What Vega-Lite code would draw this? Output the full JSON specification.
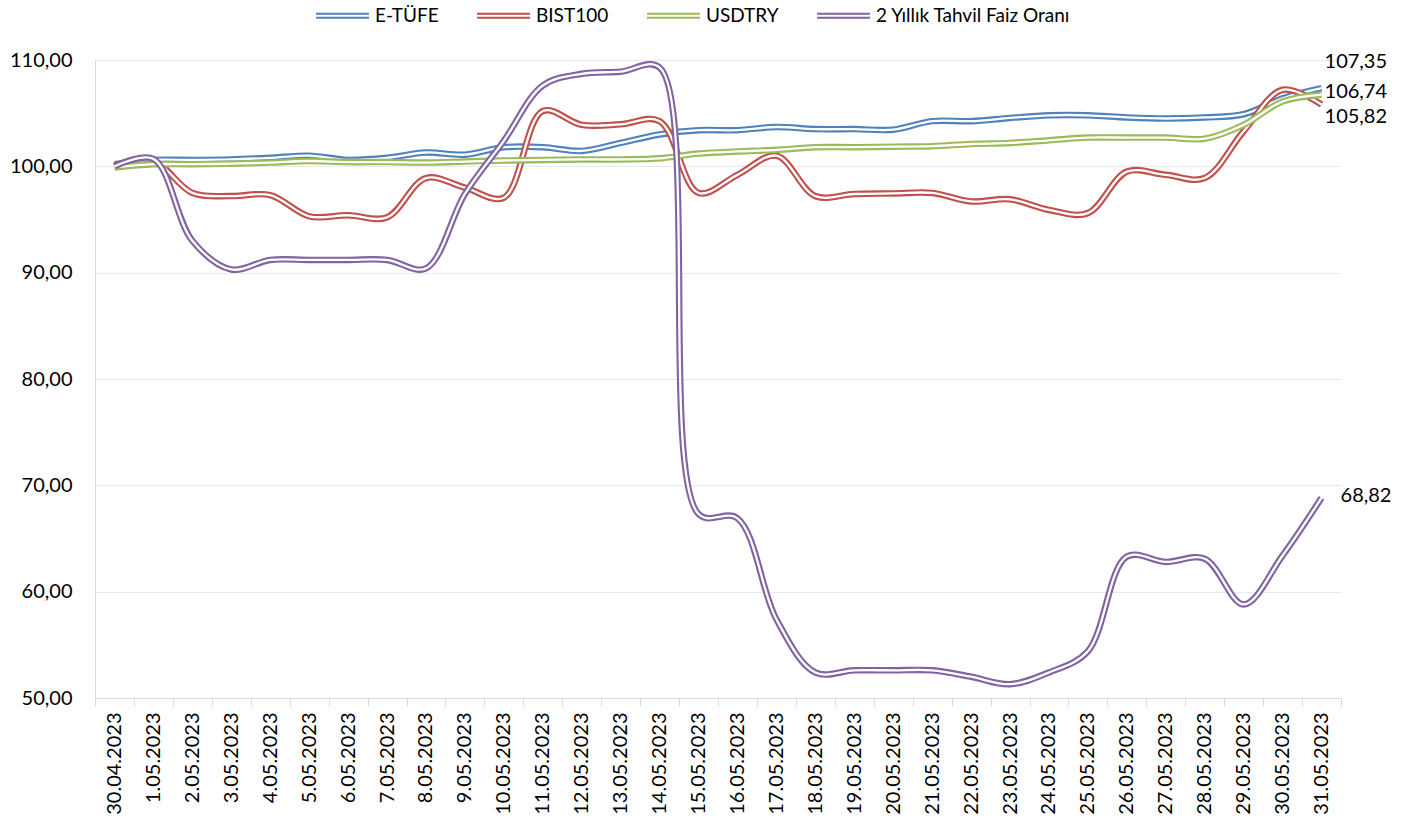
{
  "$schema": "https://vega.github.io/schema/vega-lite/v6.json",
  "autosize": {"type": "none"},
  "padding": {"left": 95, "top": 60, "right": 82, "bottom": 127},
  "width": 1246,
  "height": 638,
  "background": "white",
  "config": {
    "view": {"stroke": null},
    "locale": {"number": {"decimal": ",", "thousands": ".", "grouping": [3], "currency": ["", " TL"]}},
    "font": "Lato"
  },
  "data": {"values": [
    {"d":"30.04.2023","s":"E-TÜFE","v":100.2},{"d":"1.05.2023","s":"E-TÜFE","v":100.6},{"d":"2.05.2023","s":"E-TÜFE","v":100.6},{"d":"3.05.2023","s":"E-TÜFE","v":100.65},{"d":"4.05.2023","s":"E-TÜFE","v":100.8},{"d":"5.05.2023","s":"E-TÜFE","v":101.0},{"d":"6.05.2023","s":"E-TÜFE","v":100.6},{"d":"7.05.2023","s":"E-TÜFE","v":100.8},{"d":"8.05.2023","s":"E-TÜFE","v":101.3},{"d":"9.05.2023","s":"E-TÜFE","v":101.1},{"d":"10.05.2023","s":"E-TÜFE","v":101.8},{"d":"11.05.2023","s":"E-TÜFE","v":101.8},{"d":"12.05.2023","s":"E-TÜFE","v":101.45},{"d":"13.05.2023","s":"E-TÜFE","v":102.2},{"d":"14.05.2023","s":"E-TÜFE","v":103.0},{"d":"15.05.2023","s":"E-TÜFE","v":103.4},{"d":"16.05.2023","s":"E-TÜFE","v":103.4},{"d":"17.05.2023","s":"E-TÜFE","v":103.7},{"d":"18.05.2023","s":"E-TÜFE","v":103.5},{"d":"19.05.2023","s":"E-TÜFE","v":103.5},{"d":"20.05.2023","s":"E-TÜFE","v":103.45},{"d":"21.05.2023","s":"E-TÜFE","v":104.25},{"d":"22.05.2023","s":"E-TÜFE","v":104.25},{"d":"23.05.2023","s":"E-TÜFE","v":104.55},{"d":"24.05.2023","s":"E-TÜFE","v":104.8},{"d":"25.05.2023","s":"E-TÜFE","v":104.8},{"d":"26.05.2023","s":"E-TÜFE","v":104.6},{"d":"27.05.2023","s":"E-TÜFE","v":104.5},{"d":"28.05.2023","s":"E-TÜFE","v":104.6},{"d":"29.05.2023","s":"E-TÜFE","v":104.9},{"d":"30.05.2023","s":"E-TÜFE","v":106.4},{"d":"31.05.2023","s":"E-TÜFE","v":107.35},
    {"d":"30.04.2023","s":"BIST100","v":100.1},{"d":"1.05.2023","s":"BIST100","v":100.5},{"d":"2.05.2023","s":"BIST100","v":97.5},{"d":"3.05.2023","s":"BIST100","v":97.2},{"d":"4.05.2023","s":"BIST100","v":97.3},{"d":"5.05.2023","s":"BIST100","v":95.3},{"d":"6.05.2023","s":"BIST100","v":95.4},{"d":"7.05.2023","s":"BIST100","v":95.2},{"d":"8.05.2023","s":"BIST100","v":98.9},{"d":"9.05.2023","s":"BIST100","v":98.0},{"d":"10.05.2023","s":"BIST100","v":97.05},{"d":"11.05.2023","s":"BIST100","v":105.2},{"d":"12.05.2023","s":"BIST100","v":103.9},{"d":"13.05.2023","s":"BIST100","v":103.95},{"d":"14.05.2023","s":"BIST100","v":104.25},{"d":"15.05.2023","s":"BIST100","v":97.5},{"d":"16.05.2023","s":"BIST100","v":99.2},{"d":"17.05.2023","s":"BIST100","v":101.0},{"d":"18.05.2023","s":"BIST100","v":97.2},{"d":"19.05.2023","s":"BIST100","v":97.4},{"d":"20.05.2023","s":"BIST100","v":97.45},{"d":"21.05.2023","s":"BIST100","v":97.5},{"d":"22.05.2023","s":"BIST100","v":96.7},{"d":"23.05.2023","s":"BIST100","v":96.9},{"d":"24.05.2023","s":"BIST100","v":95.9},{"d":"25.05.2023","s":"BIST100","v":95.6},{"d":"26.05.2023","s":"BIST100","v":99.5},{"d":"27.05.2023","s":"BIST100","v":99.2},{"d":"28.05.2023","s":"BIST100","v":98.9},{"d":"29.05.2023","s":"BIST100","v":103.3},{"d":"30.05.2023","s":"BIST100","v":107.2},{"d":"31.05.2023","s":"BIST100","v":105.82},
    {"d":"30.04.2023","s":"USDTRY","v":99.9},{"d":"1.05.2023","s":"USDTRY","v":100.2},{"d":"2.05.2023","s":"USDTRY","v":100.2},{"d":"3.05.2023","s":"USDTRY","v":100.25},{"d":"4.05.2023","s":"USDTRY","v":100.35},{"d":"5.05.2023","s":"USDTRY","v":100.5},{"d":"6.05.2023","s":"USDTRY","v":100.4},{"d":"7.05.2023","s":"USDTRY","v":100.4},{"d":"8.05.2023","s":"USDTRY","v":100.35},{"d":"9.05.2023","s":"USDTRY","v":100.45},{"d":"10.05.2023","s":"USDTRY","v":100.55},{"d":"11.05.2023","s":"USDTRY","v":100.6},{"d":"12.05.2023","s":"USDTRY","v":100.65},{"d":"13.05.2023","s":"USDTRY","v":100.65},{"d":"14.05.2023","s":"USDTRY","v":100.75},{"d":"15.05.2023","s":"USDTRY","v":101.2},{"d":"16.05.2023","s":"USDTRY","v":101.4},{"d":"17.05.2023","s":"USDTRY","v":101.55},{"d":"18.05.2023","s":"USDTRY","v":101.8},{"d":"19.05.2023","s":"USDTRY","v":101.8},{"d":"20.05.2023","s":"USDTRY","v":101.85},{"d":"21.05.2023","s":"USDTRY","v":101.9},{"d":"22.05.2023","s":"USDTRY","v":102.1},{"d":"23.05.2023","s":"USDTRY","v":102.2},{"d":"24.05.2023","s":"USDTRY","v":102.45},{"d":"25.05.2023","s":"USDTRY","v":102.7},{"d":"26.05.2023","s":"USDTRY","v":102.7},{"d":"27.05.2023","s":"USDTRY","v":102.7},{"d":"28.05.2023","s":"USDTRY","v":102.6},{"d":"29.05.2023","s":"USDTRY","v":103.9},{"d":"30.05.2023","s":"USDTRY","v":106.1},{"d":"31.05.2023","s":"USDTRY","v":106.74},
    {"d":"30.04.2023","s":"2 Yıllık Tahvil Faiz Oranı","v":100.0},{"d":"1.05.2023","s":"2 Yıllık Tahvil Faiz Oranı","v":100.7},{"d":"2.05.2023","s":"2 Yıllık Tahvil Faiz Oranı","v":93.0},{"d":"3.05.2023","s":"2 Yıllık Tahvil Faiz Oranı","v":90.3},{"d":"4.05.2023","s":"2 Yıllık Tahvil Faiz Oranı","v":91.2},{"d":"5.05.2023","s":"2 Yıllık Tahvil Faiz Oranı","v":91.2},{"d":"6.05.2023","s":"2 Yıllık Tahvil Faiz Oranı","v":91.2},{"d":"7.05.2023","s":"2 Yıllık Tahvil Faiz Oranı","v":91.2},{"d":"8.05.2023","s":"2 Yıllık Tahvil Faiz Oranı","v":90.4},{"d":"9.05.2023","s":"2 Yıllık Tahvil Faiz Oranı","v":97.4},{"d":"10.05.2023","s":"2 Yıllık Tahvil Faiz Oranı","v":102.4},{"d":"11.05.2023","s":"2 Yıllık Tahvil Faiz Oranı","v":107.6},{"d":"12.05.2023","s":"2 Yıllık Tahvil Faiz Oranı","v":108.7},{"d":"13.05.2023","s":"2 Yıllık Tahvil Faiz Oranı","v":108.9},{"d":"14.05.2023","s":"2 Yıllık Tahvil Faiz Oranı","v":109.3},{"d":"15.05.2023","s":"2 Yıllık Tahvil Faiz Oranı","v":67.3},{"d":"16.05.2023","s":"2 Yıllık Tahvil Faiz Oranı","v":66.9},{"d":"17.05.2023","s":"2 Yıllık Tahvil Faiz Oranı","v":57.4},{"d":"18.05.2023","s":"2 Yıllık Tahvil Faiz Oranı","v":52.4},{"d":"19.05.2023","s":"2 Yıllık Tahvil Faiz Oranı","v":52.6},{"d":"20.05.2023","s":"2 Yıllık Tahvil Faiz Oranı","v":52.6},{"d":"21.05.2023","s":"2 Yıllık Tahvil Faiz Oranı","v":52.6},{"d":"22.05.2023","s":"2 Yıllık Tahvil Faiz Oranı","v":52.0},{"d":"23.05.2023","s":"2 Yıllık Tahvil Faiz Oranı","v":51.3},{"d":"24.05.2023","s":"2 Yıllık Tahvil Faiz Oranı","v":52.4},{"d":"25.05.2023","s":"2 Yıllık Tahvil Faiz Oranı","v":54.4},{"d":"26.05.2023","s":"2 Yıllık Tahvil Faiz Oranı","v":63.3},{"d":"27.05.2023","s":"2 Yıllık Tahvil Faiz Oranı","v":62.8},{"d":"28.05.2023","s":"2 Yıllık Tahvil Faiz Oranı","v":63.1},{"d":"29.05.2023","s":"2 Yıllık Tahvil Faiz Oranı","v":58.8},{"d":"30.05.2023","s":"2 Yıllık Tahvil Faiz Oranı","v":63.4},{"d":"31.05.2023","s":"2 Yıllık Tahvil Faiz Oranı","v":68.82}
  ]},
  "encoding": {
    "x": {
      "field": "d", "type": "ordinal", "sort": null, "bandPosition": 0.5,
      "scale": {"type": "band", "paddingInner": 0, "paddingOuter": 0},
      "axis": {"title": null, "labelAngle": 270, "labelFont": "Lato", "labelFontSize": 20, "labelColor": "#000000",
               "tickBand": "extent", "tickSize": 8, "tickColor": "#d9d9d9", "domainColor": "#d9d9d9",
               "grid": false, "labelPadding": 6}
    },
    "y": {
      "field": "v", "type": "quantitative",
      "scale": {"domain": [50, 110], "nice": false, "zero": false},
      "axis": {"title": null, "values": [50, 60, 70, 80, 90, 100, 110], "format": ".2f",
               "grid": true, "gridColor": "#e9e9e9", "domainColor": "#d9d9d9", "ticks": false,
               "labelPadding": 23, "labelFont": "Lato", "labelFontSize": 20, "labelColor": "#000000"}
    }
  },
  "layer": [
    {"transform": [{"filter": "datum.s == 'E-TÜFE'"}],
     "mark": {"type": "line", "interpolate": "catmull-rom", "strokeWidth": 6.5, "strokeJoin": "round"},
     "encoding": {"color": {"field": "s", "type": "nominal",
        "scale": {"domain": ["E-TÜFE", "BIST100", "USDTRY", "2 Yıllık Tahvil Faiz Oranı"], "range": ["#4F81BD", "#C0504D", "#9BBB59", "#8064A2"]},
        "legend": {"title": null, "orient": "none", "direction": "horizontal", "legendX": 220, "legendY": -72,
                   "symbolType": "M-1,-0.08H1M-1,0.08H1", "symbolSize": 2809, "symbolStrokeWidth": 2,
                   "labelFont": "Lato", "labelFontSize": 19, "labelColor": "#000000", "labelOffset": 5,
                   "labelLimit": 500, "columnPadding": 34}}}},
    {"transform": [{"filter": "datum.s == 'E-TÜFE'"}],
     "mark": {"type": "line", "interpolate": "catmull-rom", "strokeWidth": 2.3, "color": "white", "strokeJoin": "round"},
     "encoding": {}},
    {"transform": [{"filter": "datum.s == 'BIST100'"}],
     "mark": {"type": "line", "interpolate": "catmull-rom", "strokeWidth": 6.5, "strokeJoin": "round"},
     "encoding": {"color": {"field": "s", "type": "nominal",
        "scale": {"domain": ["E-TÜFE", "BIST100", "USDTRY", "2 Yıllık Tahvil Faiz Oranı"], "range": ["#4F81BD", "#C0504D", "#9BBB59", "#8064A2"]}}}},
    {"transform": [{"filter": "datum.s == 'BIST100'"}],
     "mark": {"type": "line", "interpolate": "catmull-rom", "strokeWidth": 2.3, "color": "white", "strokeJoin": "round"},
     "encoding": {}},
    {"transform": [{"filter": "datum.s == 'USDTRY'"}],
     "mark": {"type": "line", "interpolate": "catmull-rom", "strokeWidth": 6.5, "strokeJoin": "round"},
     "encoding": {"color": {"field": "s", "type": "nominal",
        "scale": {"domain": ["E-TÜFE", "BIST100", "USDTRY", "2 Yıllık Tahvil Faiz Oranı"], "range": ["#4F81BD", "#C0504D", "#9BBB59", "#8064A2"]}}}},
    {"transform": [{"filter": "datum.s == 'USDTRY'"}],
     "mark": {"type": "line", "interpolate": "catmull-rom", "strokeWidth": 2.3, "color": "white", "strokeJoin": "round"},
     "encoding": {}},
    {"transform": [{"filter": "datum.s == '2 Yıllık Tahvil Faiz Oranı'"}],
     "mark": {"type": "line", "interpolate": "catmull-rom", "strokeWidth": 6.5, "strokeJoin": "round"},
     "encoding": {"color": {"field": "s", "type": "nominal",
        "scale": {"domain": ["E-TÜFE", "BIST100", "USDTRY", "2 Yıllık Tahvil Faiz Oranı"], "range": ["#4F81BD", "#C0504D", "#9BBB59", "#8064A2"]}}}},
    {"transform": [{"filter": "datum.s == '2 Yıllık Tahvil Faiz Oranı'"}],
     "mark": {"type": "line", "interpolate": "catmull-rom", "strokeWidth": 2.3, "color": "white", "strokeJoin": "round"},
     "encoding": {}},
    {"transform": [{"filter": "datum.d == '31.05.2023' && datum.s == 'E-TÜFE'"}],
     "mark": {"type": "text", "align": "left", "baseline": "middle", "dx": 3, "dy": -26, "font": "Lato", "fontSize": 20, "color": "#000000"},
     "encoding": {"text": {"field": "v", "type": "quantitative", "format": ".2f"}}},
    {"transform": [{"filter": "datum.d == '31.05.2023' && datum.s == 'USDTRY'"}],
     "mark": {"type": "text", "align": "left", "baseline": "middle", "dx": 3, "dy": -3, "font": "Lato", "fontSize": 20, "color": "#000000"},
     "encoding": {"text": {"field": "v", "type": "quantitative", "format": ".2f"}}},
    {"transform": [{"filter": "datum.d == '31.05.2023' && datum.s == 'BIST100'"}],
     "mark": {"type": "text", "align": "left", "baseline": "middle", "dx": 3, "dy": 13, "font": "Lato", "fontSize": 20, "color": "#000000"},
     "encoding": {"text": {"field": "v", "type": "quantitative", "format": ".2f"}}},
    {"transform": [{"filter": "datum.d == '31.05.2023' && datum.s == '2 Yıllık Tahvil Faiz Oranı'"}],
     "mark": {"type": "text", "align": "left", "baseline": "middle", "dx": 19, "dy": -2, "font": "Lato", "fontSize": 20, "color": "#000000"},
     "encoding": {"text": {"field": "v", "type": "quantitative", "format": ".2f"}}}
  ]
}
